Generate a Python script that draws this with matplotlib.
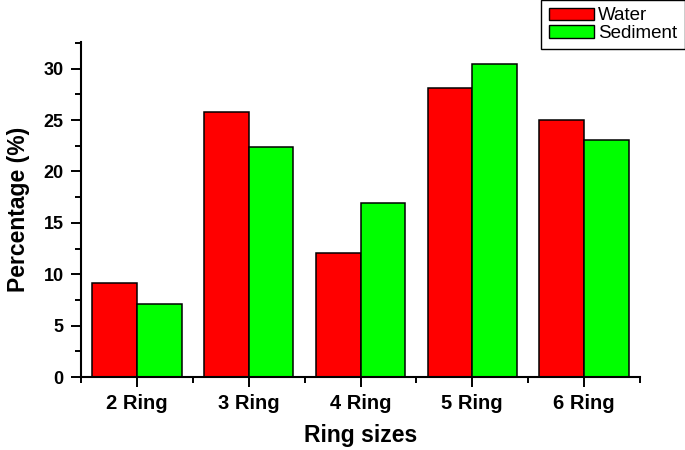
import numpy as np
import matplotlib
matplotlib.use("Agg")
import matplotlib.pyplot as plt
from matplotlib.ticker import MultipleLocator, FixedLocator

categories = ["2 Ring", "3 Ring", "4 Ring", "5 Ring", "6 Ring"]
water = [9.1, 25.8, 12.1, 28.1, 25.0]
sediment = [7.1, 22.4, 16.9, 30.5, 23.1]

plt.rcParams["font.family"] = ["Liberation Sans", "DejaVu Sans"]

fig = plt.figure(figsize=(6.85, 4.5), dpi=100)
ax = fig.add_axes([81/685, 1 - 377/450, (640 - 81)/685, (377 - 42)/450])

x = np.arange(len(categories))
w = 0.4
ax.bar(x - w/2, water, w, color="#ff0000", edgecolor="black", linewidth=1.1, label="Water")
ax.bar(x + w/2, sediment, w, color="#00ff00", edgecolor="black", linewidth=1.1, label="Sediment")

ax.set_xlim(-0.5, len(categories) - 0.5)
ax.set_ylim(0, 32.6)
ax.set_xticks(x)
ax.set_xticklabels(categories, fontsize=14.5, fontweight="bold")
ax.xaxis.set_minor_locator(FixedLocator(np.arange(-0.5, len(categories), 1.0)))
ax.yaxis.set_major_locator(MultipleLocator(5))
ax.yaxis.set_minor_locator(MultipleLocator(2.5))
for lab in ax.get_yticklabels():
    lab.set_fontsize(13)
    lab.set_fontweight("bold")

ax.tick_params(which="major", direction="out", length=7.5, width=1.4, pad=5)
ax.tick_params(which="minor", direction="out", length=4, width=1.4)
ax.spines["top"].set_visible(False)
ax.spines["right"].set_visible(False)
ax.spines["left"].set_linewidth(1.5)
ax.spines["bottom"].set_linewidth(1.5)

ax.set_xlabel("Ring sizes", fontsize=16.5, fontweight="bold", labelpad=8)
ax.set_ylabel("Percentage (%)", fontsize=16.5, fontweight="bold", labelpad=10)

leg = fig.legend(loc="upper right", bbox_to_anchor=(1.0, 1.0), fontsize=13.5,
                 fancybox=False, edgecolor="black", framealpha=1,
                 handlelength=2.4, handleheight=0.65, labelspacing=0.02,
                 borderpad=0.4, handletextpad=0.25, borderaxespad=0.0)
leg.get_frame().set_linewidth(1.0)
for p in leg.get_patches():
    p.set_linewidth(1.0)

fig.savefig("out.png", dpi=100)
